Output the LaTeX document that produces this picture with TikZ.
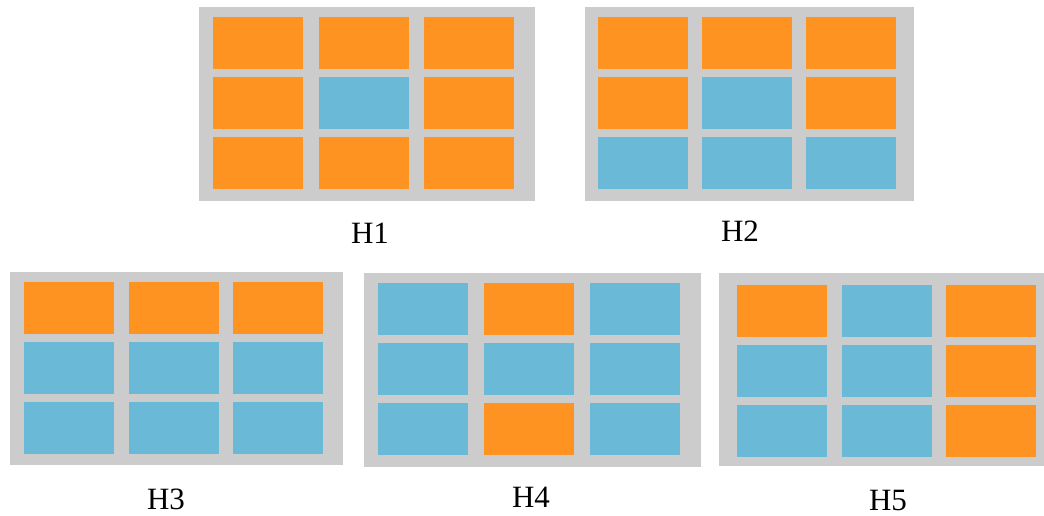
\documentclass[tikz,border=0pt]{standalone}
\usepackage{fontspec}
\setmainfont{Liberation Serif}
\usetikzlibrary{positioning}
\definecolor{gridbg}{HTML}{CCCCCC}
\definecolor{hot}{HTML}{FE9321}
\definecolor{cold}{HTML}{69B9D7}
\tikzset{
  panel/.style={fill=gridbg,draw=none,inner sep=0pt,anchor=north west},
  cell/.style={draw=none,inner sep=0pt,minimum width=90pt,minimum height=52pt,anchor=north west},
  lab/.style={font=\fontsize{31}{31}\selectfont,anchor=base,inner sep=0pt},
}
% #1 name, #2/#3 top left, #4/#5 size, #6/#7 first cell, #8 column step, #9 colours row by row
\newcommand{\hpanel}[9]{%
  \node[panel,minimum width=#4pt,minimum height=#5pt] (#1) at (#2,#3) {};
  \foreach \s [count=\k from 0] in {#9}{
    \pgfmathtruncatemacro\ci{mod(\k,3)}
    \pgfmathtruncatemacro\ri{div(\k,3)}
    \node[cell,fill=\s] (#1-\k) at ({#6+#8*\ci},{#7+59.7*\ri}) {};
  }
}

\begin{document}
\begin{tikzpicture}[x=1pt,y=-1pt]
\useasboundingbox (0,0) rectangle (1044,516);
\hpanel{h1}{199}{7}{336}{194}{213}{17}{105.5}{hot,hot,hot,hot,cold,hot,hot,hot,hot}
\hpanel{h2}{585}{7}{329}{194}{598}{17}{104}{hot,hot,hot,hot,cold,hot,cold,cold,cold}
\hpanel{h3}{10}{272}{333}{193}{24}{282}{104.5}{hot,hot,hot,cold,cold,cold,cold,cold,cold}
\hpanel{h4}{364}{273}{337}{194}{378}{283}{106}{cold,hot,cold,cold,cold,cold,cold,hot,cold}
\hpanel{h5}{719}{273}{325}{193}{737}{285}{104.5}{hot,cold,hot,cold,cold,hot,cold,cold,hot}
% labels under the grids
\node[lab] (h1lab) at (370,243) {H1};
\node[lab] (h2lab) at (740,241) {H2};
\node[lab] (h3lab) at (166,509) {H3};
\node[lab] (h4lab) at (531,507) {H4};
\node[lab] (h5lab) at (888,510) {H5};
\end{tikzpicture}
\end{document}
